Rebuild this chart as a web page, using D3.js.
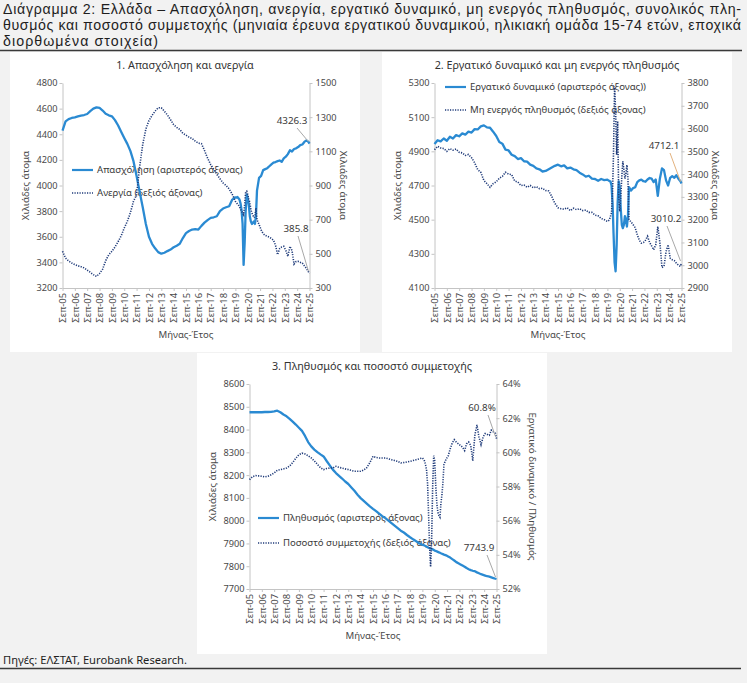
<!DOCTYPE html>
<html><head><meta charset="utf-8">
<script src="https://cdn.jsdelivr.net/npm/d3@7"></script>
<style>
body{margin:0;background:#f2f2f2}
svg{display:block}
text{font-family:"Noto Sans",sans-serif}
</style>
</head><body>
<svg id="c" width="747" height="683"></svg>
<script>
// ---------------- DATA ----------------
const titleLines = [
  "Διάγραμμα 2: Ελλάδα – Απασχόληση, ανεργία, εργατικό δυναμικό, μη ενεργός πληθυσμός, συνολικός πλη-",
  "θυσμός και ποσοστό συμμετοχής (μηνιαία έρευνα εργατικού δυναμικού, ηλικιακή ομάδα 15-74 ετών, εποχικά",
  "διορθωμένα στοιχεία)"
];
const sourceText = "Πηγές: ΕΛΣΤΑΤ, Eurobank Research.";
const panelTitles = [
  "1. Απασχόληση και ανεργία",
  "2. Εργατικό δυναμικό και μη ενεργός πληθυσμός",
  "3. Πληθυσμός και ποσοστό συμμετοχής"
];
const xTickLabels = ["Σεπ-05","Σεπ-06","Σεπ-07","Σεπ-08","Σεπ-09","Σεπ-10","Σεπ-11","Σεπ-12","Σεπ-13","Σεπ-14","Σεπ-15","Σεπ-16","Σεπ-17","Σεπ-18","Σεπ-19","Σεπ-20","Σεπ-21","Σεπ-22","Σεπ-23","Σεπ-24","Σεπ-25"];
const xTickMonths = ["2005-09","2006-09","2007-09","2008-09","2009-09","2010-09","2011-09","2012-09","2013-09","2014-09","2015-09","2016-09","2017-09","2018-09","2019-09","2020-09","2021-09","2022-09","2023-09","2024-09","2025-09"];

const months = [
 "2005-09","2005-12","2006-03","2006-06","2006-09","2006-12","2007-03","2007-06","2007-09","2007-12",
 "2008-03","2008-06","2008-09","2008-12","2009-03","2009-06","2009-09","2009-12","2010-03","2010-06",
 "2010-09","2010-12","2011-03","2011-06","2011-09","2011-12","2012-03","2012-06","2012-09","2012-12",
 "2013-03","2013-06","2013-09","2013-12","2014-03","2014-06","2014-09","2014-12","2015-03","2015-06",
 "2015-09","2015-12","2016-03","2016-06","2016-09","2016-12","2017-03","2017-06","2017-09","2017-12",
 "2018-03","2018-06","2018-09","2018-12","2019-03","2019-06","2019-09",
 "2019-10","2019-11","2019-12","2020-01","2020-02","2020-03","2020-04","2020-05","2020-06","2020-07",
 "2020-08","2020-09","2020-10","2020-11","2020-12","2021-01","2021-02","2021-03","2021-04","2021-05","2021-06",
 "2021-08","2021-10","2021-12","2022-02","2022-04","2022-06","2022-08","2022-10","2022-12",
 "2023-02","2023-04","2023-06","2023-08","2023-10","2023-12","2024-02","2024-04","2024-06","2024-08",
 "2024-10","2024-12","2025-02","2025-04","2025-06","2025-08","2025-09"
];

const employment = [
 4428,4500,4518,4527,4532,4540,4546,4550,4558,4580,4600,4610,4605,4585,4560,4548,4540,4510,4470,4420,
 4371,4325,4270,4190,4075,3950,3830,3700,3600,3545,3510,3480,3468,3475,3488,3500,3518,3530,3545,3590,
 3628,3645,3656,3660,3656,3685,3710,3730,3747,3752,3760,3800,3820,3830,3838,3890,3908,
 3905,3910,3900,3890,3860,3810,3700,3380,3550,3800,3930,3900,3850,3760,3720,3700,3710,3720,3700,3760,3960,
 4060,4075,4120,4128,4135,4150,4165,4178,4183,4190,4195,4185,4212,4225,4245,4275,4265,4285,4290,4300,
 4315,4320,4340,4352,4340,4326.3
];
const unemployment = [
 515,475,458,446,437,430,425,418,405,392,378,368,385,410,460,495,515,540,570,605,
 651,690,740,807,846,1010,1140,1230,1280,1310,1335,1355,1355,1335,1313,1285,1256,1240,1228,1205,
 1195,1183,1175,1160,1148,1145,1105,1060,1022,995,965,940,915,900,880,848,807,
 800,792,785,775,760,749,740,729,790,860,866,846,820,800,760,740,725,712,720,768,700,
 672,640,618,608,603,598,590,580,550,495,530,540,544,520,485,544,520,440,455,456,
 450,446,430,415,395,385.8
];
const labourForce = [
 4943,4965,4958,4975,4962,4985,4975,4995,4988,5005,4998,5015,5010,5030,5028,5046,5052,5040,5038,5015,
 4990,4955,4945,4910,4905,4880,4872,4855,4860,4842,4840,4822,4815,4800,4795,4782,4785,4795,4805,4815,
 4822,4812,4818,4800,4805,4795,4790,4775,4765,4752,4757,4740,4738,4728,4738,4732,4734,
 4730,4726,4724,4700,4600,4420,4250,4198,4350,4600,4724,4690,4560,4470,4451,4470,4520,4500,4460,4520,4690,
 4670,4685,4690,4720,4730,4734,4725,4722,4735,4744,4740,4720,4735,4640,4740,4800,4790,4730,4700,4745,
 4755,4745,4760,4740,4725,4712.1
];
const inactive = [
 3507,3522,3515,3512,3500,3512,3505,3510,3496,3493,3482,3486,3472,3450,3420,3408,3372,3358,3342,3358,
 3366,3382,3390,3408,3400,3398,3370,3365,3350,3352,3342,3350,3340,3345,3336,3338,3328,3326,3302,3272,
 3252,3248,3246,3252,3240,3250,3244,3248,3240,3242,3232,3232,3220,3217,3205,3200,3192,
 3195,3200,3215,3230,3320,3500,3785,3680,3485,3632,3300,3236,3300,3390,3456,3420,3380,3400,3440,3380,3200,
 3190,3178,3165,3134,3110,3097,3100,3110,3127,3100,3085,3068,3090,3170,3100,2990,2995,3060,3090,3031,
 3024,3020,3009,3000,2995,3010.2
];
const population = [
 8476,8476,8476,8476,8476,8477,8477,8478,8480,8483,8476,8466,8458,8447,8435,8422,8408,8394,8372,8345,
 8326,8312,8301,8291,8282,8262,8243,8224,8209,8197,8185,8172,8161,8146,8131,8114,8099,8087,8075,8063,
 8052,8042,8031,8020,8011,8000,7989,7978,7967,7956,7948,7937,7927,7918,7910,7901,7894,
 7893,7891,7889,7886,7884,7881,7879,7878,7876,7874,7872,7868,7867,7865,7863,7861,7859,7857,7855,7853,7851,
 7848,7843,7838,7831,7825,7818,7813,7808,7803,7798,7792,7787,7783,7780,7778,7773,7769,7765,7762,7759,
 7756,7754,7751,7748,7745,7743.9
];
const participation = [
 58.40,58.58,58.64,58.62,58.60,58.56,58.60,58.69,58.79,58.95,58.99,59.03,59.08,59.20,59.40,59.65,59.86,59.95,59.90,59.80,
 59.67,59.50,59.30,59.10,58.99,59.05,59.08,59.08,59.18,59.12,59.08,59.03,58.99,58.94,58.89,58.89,58.89,58.96,59.10,59.40,
 59.77,59.70,59.67,59.67,59.67,59.62,59.57,59.52,59.47,59.38,59.40,59.44,59.47,59.52,59.57,59.62,59.67,
 59.6,59.5,59.3,59.0,58.2,56.5,54.5,53.3,54.9,58.0,59.8,59.5,58.0,57.0,56.5,56.3,56.2,57.0,57.5,58.2,59.3,
 59.6,59.77,60.2,60.55,60.74,60.6,60.5,60.4,60.3,60.1,60.5,60.6,60.4,59.5,61.0,61.6,60.9,60.45,60.9,61.1,
 61.05,61.0,61.3,61.2,61.1,60.8
];

const p1LeftTicks = [3200,3400,3600,3800,4000,4200,4400,4600,4800];
const p1RightTicks = [300,500,700,900,1100,1300,1500];
const p2LeftTicks = [4100,4300,4500,4700,4900,5100,5300];
const p2RightTicks = [2900,3000,3100,3200,3300,3400,3500,3600,3700,3800];
const p3LeftTicks = [7700,7800,7900,8000,8100,8200,8300,8400,8500,8600];
const p3RightTicks = [52,54,56,58,60,62,64];

const p1Legend = ["Απασχόληση (αριστερός άξονας)","Ανεργία (δεξιός άξονας)"];
const p2Legend = ["Εργατικό δυναμικό (αριστερός άξονας))","Μη ενεργός πληθυσμός (δεξιός άξονας)"];
const p3Legend = ["Πληθυσμός (αριστερός άξονας)","Ποσοστό συμμετοχής (δεξιός άξονας)"];
const yTitleThousands = "Χιλιάδες άτομα";
const yTitleRatio = "Εργατικό δυναμικό / Πληθυσμός";
const xTitle = "Μήνας-Έτος";

// ---------------- DRAW ----------------
const svg = d3.select("#c");
const W = 747, H = 683;
const SOLID = "#2a8ad2", DOTTED = "#1f3b7a", AXIS = "#c4c4c4", TXT = "#4a4a4a";
const parse = d3.timeParse("%Y-%m");
const dates = months.map(parse);

svg.append("rect").attr("width", W).attr("height", H).attr("fill", "#f2f2f2");

// title
const TF = '"Liberation Sans",Arial,sans-serif';
const tg = svg.append("g").attr("fill", "#1e1e1e").style("font-size", "14.2px");
tg.append("text").attr("x", 3).attr("y", 14).attr("textLength", 738).attr("lengthAdjust", "spacing")
  .style("font-family", TF).text(titleLines[0]);
tg.append("text").attr("x", 3).attr("y", 30).attr("textLength", 738).attr("lengthAdjust", "spacing")
  .style("font-family", TF).text(titleLines[1]);
tg.append("text").attr("x", 3).attr("y", 46).attr("textLength", 155).attr("lengthAdjust", "spacing")
  .style("font-family", TF).text(titleLines[2]);
svg.append("line").attr("x1", 0).attr("x2", 742).attr("y1", 50.5).attr("y2", 50.5)
  .attr("stroke", "#3a3a3a").attr("stroke-width", 1.4);

// footer
svg.append("text").attr("x", 3).attr("y", 664).attr("fill", "#1e1e1e").style("font-size", "11.2px").text(sourceText);
svg.append("line").attr("x1", 0).attr("x2", 741).attr("y1", 668.5).attr("y2", 668.5)
  .attr("stroke", "#3a3a3a").attr("stroke-width", 1.4);

function panel(cfg) {
  const g = svg.append("g").attr("transform", `translate(${cfg.x},${cfg.y})`);
  g.append("rect").attr("width", 350).attr("height", cfg.h).attr("fill", "#ffffff");
  const L = 52.5, R = 299.5, T = 31, B = 236;
  const x = d3.scaleTime().domain([parse("2005-09"), parse("2025-09")]).range([L, R]);
  const yL = d3.scaleLinear().domain([cfg.leftTicks[0], cfg.leftTicks[cfg.leftTicks.length - 1]]).range([B, T]);
  const yR = d3.scaleLinear().domain([cfg.rightTicks[0], cfg.rightTicks[cfg.rightTicks.length - 1]]).range([B, T]);

  g.append("text").attr("x", 175).attr("y", 17).attr("text-anchor", "middle")
    .attr("fill", "#333").style("font-size", "10.8px").text(cfg.title);

  function styleAxis(a) {
    a.select(".domain").attr("stroke", AXIS);
    a.selectAll(".tick line").attr("stroke", AXIS);
    a.selectAll(".tick text").attr("fill", TXT).style("font-size", "9.2px").style("font-family", '"Noto Sans",sans-serif');
  }
  const aL = g.append("g").attr("transform", `translate(${L},0)`)
    .call(d3.axisLeft(yL).tickValues(cfg.leftTicks).tickSize(3).tickSizeOuter(0).tickPadding(2).tickFormat(d3.format("d")));
  styleAxis(aL);
  const aR = g.append("g").attr("transform", `translate(${R},0)`)
    .call(d3.axisRight(yR).tickValues(cfg.rightTicks).tickSize(3).tickSizeOuter(0).tickPadding(3).tickFormat(cfg.rightFmt));
  styleAxis(aR);
  const aB = g.append("g").attr("transform", `translate(0,${B})`)
    .call(d3.axisBottom(x).tickValues(xTickMonths.map(parse)).tickSize(3).tickSizeOuter(0)
      .tickFormat((d, i) => xTickLabels[i]));
  styleAxis(aB);
  aB.selectAll(".tick text").attr("transform", "rotate(-90)").attr("x", -5).attr("y", 0)
    .attr("dy", "0.35em").style("text-anchor", "end").style("font-size", "9.4px");

  // axis titles
  g.append("text").attr("transform", `translate(16,${(T + B) / 2}) rotate(-90)`).attr("text-anchor", "middle")
    .attr("dy", "0.35em").attr("fill", TXT).style("font-size", "9.8px").text(yTitleThousands);
  g.append("text").attr("transform", `translate(${cfg.rTitleX},${(T + B) / 2}) rotate(90)`).attr("text-anchor", "middle")
    .attr("dy", "0.35em").attr("fill", TXT).style("font-size", "9.8px").text(cfg.rTitle);
  g.append("text").attr("x", (L + R) / 2).attr("y", 286).attr("text-anchor", "middle")
    .attr("fill", TXT).style("font-size", "9.6px").text(xTitle);

  // legend (behind lines)
  const lg = g.append("g");
  lg.append("line").attr("x1", cfg.leg.x).attr("x2", cfg.leg.x + 21).attr("y1", cfg.leg.y1).attr("y2", cfg.leg.y1)
    .attr("stroke", SOLID).attr("stroke-width", 2.2);
  lg.append("line").attr("x1", cfg.leg.x).attr("x2", cfg.leg.x + 21).attr("y1", cfg.leg.y2).attr("y2", cfg.leg.y2)
    .attr("stroke", DOTTED).attr("stroke-width", 1.5).attr("stroke-dasharray", "1.2,1.3");
  lg.append("text").attr("x", cfg.leg.x + 25).attr("y", cfg.leg.y1).attr("dy", "0.35em")
    .attr("fill", "#3a3a3a").style("font-size", "9.6px").text(cfg.legend[0]);
  lg.append("text").attr("x", cfg.leg.x + 25).attr("y", cfg.leg.y2).attr("dy", "0.35em")
    .attr("fill", "#3a3a3a").style("font-size", "9.6px").text(cfg.legend[1]);

  // lines
  const solidData = dates.map((d, i) => ({ d, v: cfg.left[i] }));
  const dotData = dates.map((d, i) => ({ d, v: cfg.right[i] }));
  g.append("path").datum(solidData).attr("fill", "none").attr("stroke", SOLID).attr("stroke-width", 2.3)
    .attr("stroke-linejoin", "round")
    .attr("d", d3.line().x(p => x(p.d)).y(p => yL(p.v)));
  g.append("path").datum(dotData).attr("fill", "none").attr("stroke", DOTTED).attr("stroke-width", 1.6)
    .attr("stroke-dasharray", "1.2,1.3")
    .attr("d", d3.line().x(p => x(p.d)).y(p => yR(p.v)));

  // annotations
  const last = dates.length - 1;
  cfg.ann.forEach(a => {
    const val = a.axis === "L" ? cfg.left[last] : cfg.right[last];
    const yy = a.axis === "L" ? yL(val) : yR(val);
    g.append("line").attr("x1", a.lx).attr("y1", a.ly).attr("x2", x(dates[last]) - 1).attr("y2", yy - 2)
      .attr("stroke", a.color || "#a8a8a8").attr("stroke-width", 1);
    g.append("text").attr("x", a.x).attr("y", a.y).attr("text-anchor", "middle")
      .attr("fill", "#3a3a3a").style("font-size", "9.8px").text(a.fmt(val));
  });
}

const f1 = d3.format(".1f");
panel({
  x: 10, y: 52, h: 300, title: panelTitles[0],
  leftTicks: p1LeftTicks, rightTicks: p1RightTicks, rightFmt: d3.format("d"),
  left: employment, right: unemployment, rTitle: yTitleThousands, rTitleX: 333,
  legend: p1Legend, leg: { x: 62, y1: 118, y2: 141 },
  ann: [
    { axis: "L", x: 282, y: 72, lx: 287, ly: 76, fmt: f1 },
    { axis: "R", x: 286, y: 180, lx: 288, ly: 184, fmt: f1 }
  ]
});
panel({
  x: 382, y: 52, h: 300, title: panelTitles[1],
  leftTicks: p2LeftTicks, rightTicks: p2RightTicks, rightFmt: d3.format("d"),
  left: labourForce, right: inactive, rTitle: yTitleThousands, rTitleX: 333,
  legend: p2Legend, leg: { x: 63, y1: 35, y2: 58 },
  ann: [
    { axis: "L", x: 282, y: 97, lx: 288, ly: 101, fmt: f1, color: "#e3b27e" },
    { axis: "R", x: 284, y: 170, lx: 285, ly: 174, fmt: f1 }
  ]
});
panel({
  x: 197, y: 353, h: 301, title: panelTitles[2],
  leftTicks: p3LeftTicks, rightTicks: p3RightTicks, rightFmt: d => d + "%",
  left: population, right: participation, rTitle: yTitleRatio, rTitleX: 335,
  legend: p3Legend, leg: { x: 61, y1: 165, y2: 190 },
  ann: [
    { axis: "R", x: 285, y: 58, lx: 291, ly: 62, fmt: v => f1(v) + "%" },
    { axis: "L", x: 282, y: 198, lx: 290, ly: 202, fmt: f1 }
  ]
});
</script>
</body></html>
